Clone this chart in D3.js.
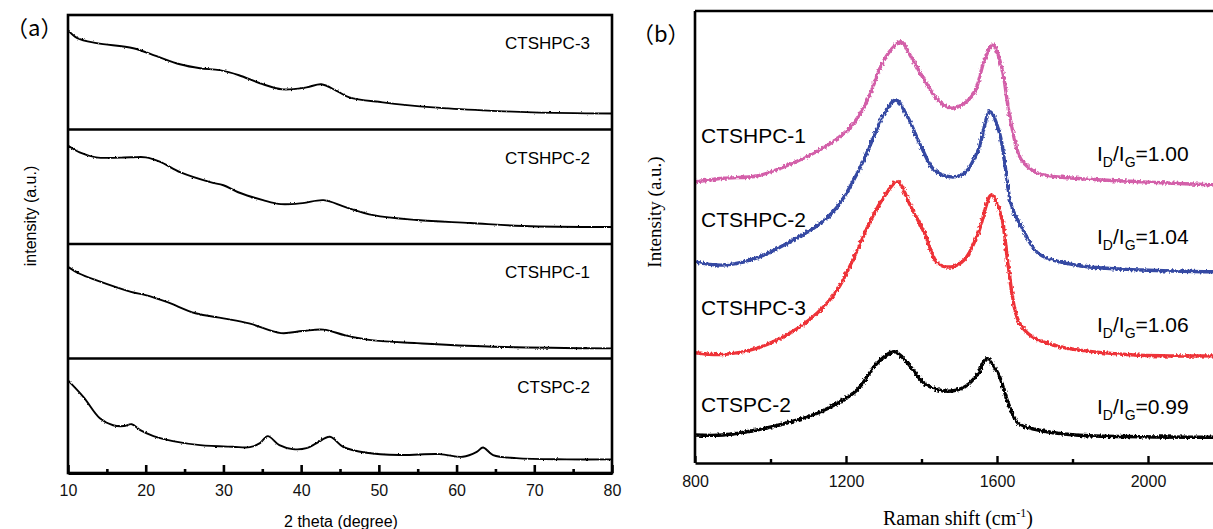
<!DOCTYPE html>
<html>
<head>
<meta charset="utf-8">
<script src="https://cdn.jsdelivr.net/npm/d3@7"></script>
<style>
  body { margin: 0; background: #fff; }
  svg { display: block; }
</style>
</head>
<body>
<div id="container"></div>
<script>
let w = 1213;
let h = 529;

// ---- DATA ----

// (a) XRD, 2 theta vs intensity (each sample in its own strip, 0-100 a.u.)
let xrdTicks = [10, 20, 30, 40, 50, 60, 70, 80];
let xrdMinorTicks = [15, 25, 35, 45, 55, 65, 75];
let xrdSamples = ["CTSHPC-3", "CTSHPC-2", "CTSHPC-1", "CTSPC-2"];

let xrdCTSHPC3 = [[10,86.8],[11.2,79.8],[13.7,75.4],[18.4,71],[21.4,64],[24.4,57],[27,53.5],[29.5,51.8],
  [32,47.4],[34.7,40.4],[37.6,35],[40.7,36.8],[42.6,39.5],[44.5,34],[46.2,28],[50.5,23.7],[57,19.3],
  [63.4,16.7],[69.8,15],[80,14]];
let xrdCTSHPC2 = [[10,86],[11.5,80],[13.6,75.7],[18.1,75.7],[20,75.7],[21.8,72],[24.5,62.5],[28.3,54],
  [30,51.3],[31.9,45.2],[35.1,38.3],[37.4,34.8],[40.2,35.7],[42.9,38.3],[45.7,32.2],[49.3,25.2],
  [54.9,20.9],[61.8,18.3],[68.6,15.7],[80,14.8]];
let xrdCTSHPC1 = [[10,80],[11.5,74],[13.6,68.4],[18.1,58.2],[20,55.3],[22.7,49.4],[26.4,39.5],[30,35.1],
  [33.3,30.7],[37.4,22.2],[40.2,24],[42.9,25.2],[45.7,20.2],[49.3,15.8],[54.9,13.4],[64,10.5],[80,8.8]];
let xrdCTSPC2 = [[10,80.9],[12,66.3],[14.1,47.8],[15.8,41.7],[17.2,41],[18.2,42.6],[19.3,37.4],[21,32.2],
  [23.5,27.8],[27,24.3],[31.2,22.9],[33.4,22.6],[34.7,26.1],[35.7,32.2],[37.2,24.3],[38.9,20.9],
  [40.7,21.7],[42,26.1],[43.7,31.6],[45.4,22.9],[48.4,17.7],[52.7,15.7],[57.8,16.5],[60.8,14.2],
  [62.6,18.5],[63.4,22.3],[64.7,15.7],[67.7,13],[74.1,11.9],[80,11.9]];
let xrdSeries = [xrdCTSHPC3, xrdCTSHPC2, xrdCTSHPC1, xrdCTSPC2];

// (b) Raman, shift (cm-1) vs intensity (one shared 0-100 a.u. scale, curves offset)
let ramanTicks = [800, 1200, 1600, 2000];
let ramanMinorTicks = [1000, 1400, 1800];
let ramanSamples = ["CTSHPC-1", "CTSHPC-2", "CTSHPC-3", "CTSPC-2"];
let ramanRatios = ["1.00", "1.04", "1.06", "0.99"];

let ramanCTSHPC1 = [[800,62.2],[875,63],[964,63.5],[1035,65.5],[1097,67.8],[1159,70.7],[1213,74.4],
  [1257,80.3],[1292,87.7],[1319,91.4],[1346,93.2],[1372,89.9],[1408,84.7],[1443,80.3],[1479,78.5],
  [1514,79.6],[1541,82.1],[1567,89.2],[1589,92.5],[1612,87.7],[1634,76.6],[1665,67],[1709,64.1],
  [1807,63],[1984,62.2],[2180,61.5]];
let ramanCTSHPC2 = [[800,44.5],[875,43.8],[964,45.4],[1053,49],[1124,52.5],[1177,56.7],[1230,64.1],
  [1266,70.7],[1301,77.3],[1332,80.3],[1363,76.6],[1399,70],[1434,64.8],[1479,63.3],[1514,64.1],
  [1550,69.2],[1581,77.7],[1607,72.9],[1639,56.7],[1665,52.3],[1709,46.4],[1807,43.8],[1984,42.7],[2180,42.3]];
let ramanCTSHPC3 = [[800,24.4],[875,24],[964,25.4],[1053,28.8],[1124,33.2],[1177,38.3],[1230,47.1],
  [1266,53.8],[1301,58.9],[1336,62.2],[1372,56.7],[1408,50.8],[1443,44.2],[1479,43.4],[1514,45],
  [1550,50.8],[1585,59.3],[1612,54.4],[1630,43.4],[1656,31.6],[1692,28],[1763,25.8],[1941,24],[2180,23.7]];
let ramanCTSPC2 = [[800,6.2],[875,6.2],[964,7.3],[1053,9.1],[1124,11],[1177,13.2],[1230,16.2],
  [1283,22.1],[1328,24.6],[1363,22.1],[1408,17.6],[1461,15.9],[1514,16.8],[1550,19.8],[1572,23.1],
  [1603,19.8],[1630,13.2],[1656,8.8],[1709,7.3],[1807,6.2],[1984,5.8],[2180,5.7]];
let ramanSeries = [ramanCTSHPC1, ramanCTSHPC2, ramanCTSHPC3, ramanCTSPC2];
let ramanColors = ["#d35fa9", "#3549a3", "#ee3237", "#000000"];

// ---- SVG ----
let viz = d3.select("#container").append("svg")
    .attr("width", w)
    .attr("height", h)
    .style("background-color", "white");

// a bit of jitter so the traces look like measured spectra (pure rendering effect)
let defs = viz.append("defs");
function noiseFilter(id, freq, amount, seed){
  let f = defs.append("filter").attr("id", id)
    .attr("filterUnits", "userSpaceOnUse")
    .attr("x", 0).attr("y", 0).attr("width", w).attr("height", h);
  f.append("feTurbulence").attr("type", "fractalNoise")
    .attr("baseFrequency", freq).attr("numOctaves", 1).attr("seed", seed).attr("result", "n");
  f.append("feDisplacementMap").attr("in", "SourceGraphic").attr("in2", "n")
    .attr("scale", amount).attr("xChannelSelector", "R").attr("yChannelSelector", "G");
}
noiseFilter("xrdNoise", "0.7 0.45", 2.4, 3);
noiseFilter("ramanNoise", "0.55 0.35", 4.5, 7);

let sans = "'Liberation Sans', Arial, sans-serif";
let serif = "'Liberation Serif', 'Times New Roman', serif";

// ================= (a) XRD =================
let aLeft = 68, aRight = 612, aTop = 15, aBottom = 473;
let xA = d3.scaleLinear().domain([10, 80]).range([aLeft, aRight]);
let stripH = (aBottom - aTop) / xrdSamples.length;

let panelA = viz.append("g");

xrdSeries.forEach(function(series, i){
  let top = aTop + i * stripH;
  let yA = d3.scaleLinear().domain([0, 100]).range([top + stripH, top]);
  let lineMaker = d3.line()
    .x(function(d){ return xA(d[0]); })
    .y(function(d){ return yA(d[1]); })
    .curve(d3.curveCatmullRom.alpha(0.5));
  panelA.append("path")
    .datum(series)
    .attr("d", lineMaker)
    .attr("fill", "none")
    .attr("stroke", "#000")
    .attr("stroke-width", 1.9)
    .attr("filter", "url(#xrdNoise)");

  panelA.append("text")
    .attr("x", 590)
    .attr("y", top + 34)
    .attr("text-anchor", "end")
    .style("font-family", sans)
    .style("font-size", "17px")
    .text(xrdSamples[i]);

  if(i > 0){
    panelA.append("line")
      .attr("x1", aLeft).attr("x2", aRight)
      .attr("y1", top).attr("y2", top)
      .attr("stroke", "black").attr("stroke-width", 2.6);
  }
});

panelA.append("rect")
  .attr("x", aLeft).attr("y", aTop)
  .attr("width", aRight - aLeft).attr("height", aBottom - aTop)
  .attr("fill", "none").attr("stroke", "black").attr("stroke-width", 2.6);

let xAxisA = panelA.append("g")
  .attr("transform", "translate(0," + aBottom + ")")
  .call(d3.axisBottom(xA).tickValues(xrdTicks).tickSizeInner(-8).tickSizeOuter(0).tickPadding(12).tickFormat(d3.format("d")));
xAxisA.select(".domain").attr("stroke-width", 3);
xAxisA.selectAll(".tick line").attr("stroke-width", 2.6);
xAxisA.selectAll("text").style("font-family", sans).style("font-size", "16px").attr("fill", "#111");

let xAxisAMinor = panelA.append("g")
  .attr("transform", "translate(0," + aBottom + ")")
  .call(d3.axisBottom(xA).tickValues(xrdMinorTicks).tickSize(-4).tickFormat(""));
xAxisAMinor.select(".domain").remove();
xAxisAMinor.selectAll(".tick line").attr("stroke-width", 2.6);

panelA.append("text")
  .attr("x", 341).attr("y", 527)
  .attr("text-anchor", "middle")
  .style("font-family", sans).style("font-size", "16px")
  .text("2 theta (degree)");

panelA.append("text")
  .attr("transform", "translate(36,216) rotate(-90)")
  .attr("text-anchor", "middle")
  .style("font-family", sans).style("font-size", "16px")
  .text("intensity (a.u.)");

panelA.append("text")
  .attr("x", 6).attr("y", 36)
  .style("font-family", "'Noto Sans CJK SC', sans-serif").style("font-size", "22px")
  .text("（a）");

// ================= (b) Raman =================
let bLeft = 695, bTop = 11, bBottom = 463;
let pxPerUnit = (846 - 695) / 400;
let xB = d3.scaleLinear().domain([800, 2200]).range([bLeft, bLeft + 1400 * pxPerUnit]);
let yB = d3.scaleLinear().domain([0, 100]).range([bBottom, bTop]);

let panelB = viz.append("g");

let ramanLine = d3.line()
  .x(function(d){ return xB(d[0]); })
  .y(function(d){ return yB(d[1]); })
  .curve(d3.curveCatmullRom.alpha(0.5));

ramanSeries.forEach(function(series, i){
  panelB.append("path")
    .datum(series)
    .attr("d", ramanLine)
    .attr("fill", "none")
    .attr("stroke", ramanColors[i])
    .attr("stroke-width", 3.4)
    .attr("stroke-linejoin", "round")
    .attr("filter", "url(#ramanNoise)");
});

// sample names on the left, I_D/I_G on the right
let nameY = [143, 227, 315, 412];
let ratioY = [161, 244, 332, 414];
ramanSamples.forEach(function(name, i){
  panelB.append("text")
    .attr("x", 701).attr("y", nameY[i])
    .style("font-family", sans).style("font-size", "21px")
    .text(name);

  let t = panelB.append("text")
    .attr("x", 1097).attr("y", ratioY[i])
    .style("font-family", sans).style("font-size", "21px");
  t.append("tspan").text("I");
  t.append("tspan").attr("dy", 6).style("font-size", "14px").text("D");
  t.append("tspan").attr("dy", -6).text("/I");
  t.append("tspan").attr("dy", 6).style("font-size", "14px").text("G");
  t.append("tspan").attr("dy", -6).text("=" + ramanRatios[i]);
});

// frame: left, top, bottom (right side runs off the picture)
panelB.append("line")
  .attr("x1", bLeft).attr("x2", bLeft).attr("y1", bTop).attr("y2", bBottom)
  .attr("stroke", "black").attr("stroke-width", 2.6);
panelB.append("line")
  .attr("x1", bLeft).attr("x2", w).attr("y1", bTop).attr("y2", bTop)
  .attr("stroke", "black").attr("stroke-width", 2.6);

let xAxisB = panelB.append("g")
  .attr("transform", "translate(0," + bBottom + ")")
  .call(d3.axisBottom(xB).tickValues(ramanTicks).tickSizeInner(-7).tickSizeOuter(0).tickPadding(13).tickFormat(d3.format("d")));
xAxisB.select(".domain").attr("stroke-width", 2.6);
xAxisB.selectAll(".tick line").attr("stroke-width", 2.4);
xAxisB.selectAll("text").style("font-family", sans).style("font-size", "16px").attr("fill", "#111");

let xAxisBMinor = panelB.append("g")
  .attr("transform", "translate(0," + bBottom + ")")
  .call(d3.axisBottom(xB).tickValues(ramanMinorTicks).tickSize(-4).tickFormat(""));
xAxisBMinor.select(".domain").remove();
xAxisBMinor.selectAll(".tick line").attr("stroke-width", 2.4);

let xTitleB = panelB.append("text")
  .attr("x", 958).attr("y", 525)
  .attr("text-anchor", "middle")
  .style("font-family", serif).style("font-size", "20px");
xTitleB.append("tspan").text("Raman shift (cm");
xTitleB.append("tspan").attr("dy", -8).style("font-size", "12px").text("-1");
xTitleB.append("tspan").attr("dy", 8).text(")");

panelB.append("text")
  .attr("transform", "translate(661,212) rotate(-90)")
  .attr("text-anchor", "middle")
  .style("font-family", serif).style("font-size", "19px")
  .text("Intensity (a.u.)");

panelB.append("text")
  .attr("x", 632).attr("y", 42)
  .style("font-family", "'Noto Sans CJK SC', sans-serif").style("font-size", "22px")
  .text("（b）");
</script>
</body>
</html>
